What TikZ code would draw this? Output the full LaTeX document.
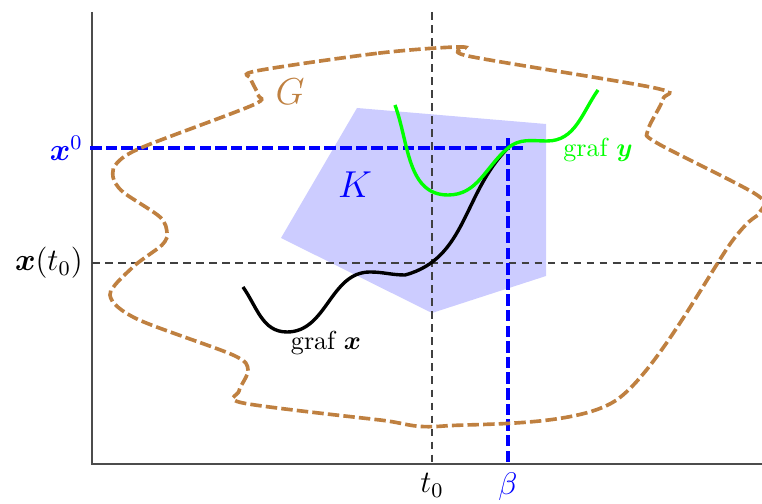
\documentclass[tikz,border=0pt]{standalone}
\usepackage{amsmath,amssymb}
\begin{document}
\begin{tikzpicture}[x=0.135cm, y=0.135cm]
  \useasboundingbox (0,0) rectangle (76.2,50.4);
  % the set K
  \fill[blue!20] (35.7,39.6) -- (54.6,38.0) -- (54.6,22.8) -- (43.2,19.1) -- (28.1,26.6) -- cycle;
  \node[blue, font=\Large] (K) at (35.5,31.9) {$K$};
  % axes and guide lines
  \draw[black!70] (9.2,49.2) -- (9.2,4.0) -- (76.2,4.0);
  \draw[black!75, dash pattern=on 3pt off 2pt] (43.2,49.2) -- (43.2,4.0);
  \draw[black!75, dash pattern=on 3pt off 2pt] (9.2,24.1) -- (76.2,24.1);
  \coordinate (P) at (50.8,35.6);
  \draw[blue, line width=1.4pt, dashed, line cap=rect] (9.2,35.6) -- (52.3,35.6);
  \draw[blue, line width=1.4pt, dashed, line cap=rect] (50.8,36.4) -- (50.8,4.0);
  \node[left, blue, font=\large] (x0) at (9.2,35.6) {$\boldsymbol{x}^0$};
  \node[left, font=\large] (xt0) at (9.2,24.1) {$\boldsymbol{x}(t_0)$};
  \node[below, font=\large] (t0) at (43.2,4.0) {$t_0$};
  \node[below, blue, font=\large] (beta) at (50.8,4.0) {$\beta$};
  % the domain G
  \draw[brown, line width=1.4pt, dashed, line cap=rect] plot[smooth cycle, tension=0.5] coordinates {
    (25.6,43.3) (38.0,45.1) (46.3,45.7) (46.8,44.8) (65.5,41.6) (66.3,40.5)
    (64.8,37.4) (65.7,36.1) (75.7,30.9) (75.9,29.1) (73.3,26.4) (61.5,10.3)
    (44.4,7.8) (38.0,8.4) (24.3,10.1) (23.9,11.3) (24.8,13.4) (23.3,14.9)
    (13.7,18.5) (11.0,20.9) (13.3,23.7) (16.2,25.9) (16.7,27.1) (16.0,28.7)
    (12.3,31.2) (11.3,32.7) (11.7,34.1) (14.3,35.7) (25.3,39.9) (25.8,40.9)
    (25.1,42.5)};
  \node[brown, font=\Large] (G) at (29.0,41.2) {$G$};
  % the two graphs
  \draw[line width=1.3pt] (24.3,21.7) to[out=-55,in=180] (28.7,17.2) to[out=0,in=180] (37.0,23.2)
    to[out=0,in=180] (40.5,22.9) to[out=15,in=225] (P);
  \node (grafx) at (32.6,16.1) {graf $\boldsymbol{x}$};
  \draw[green, line width=1.3pt] (39.5,39.9) to[out=-70,in=180] (44.8,30.9) to[out=0,in=220] (P)
    to[out=40,in=180] (54.7,36.3) to[out=0,in=235] (59.8,41.4);
  \node[green] (grafy) at (59.8,35.4) {graf $\boldsymbol{y}$};
\end{tikzpicture}
\end{document}
